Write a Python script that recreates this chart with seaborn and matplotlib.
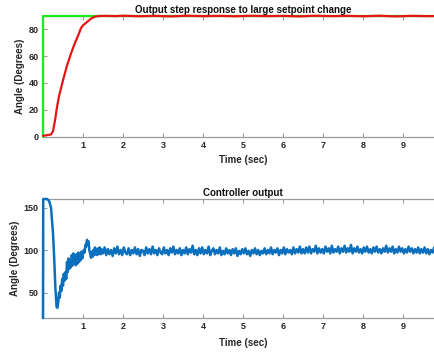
import numpy as np
import pandas as pd
import matplotlib
matplotlib.use("Agg")
import matplotlib.pyplot as plt
import seaborn as sns

# ---------------- data ----------------
# Setpoint (green)
sp_t = [0.0, 0.0, 10.0]
sp_y = [0.0, 90.0, 90.0]

# Output response (red)
resp_t = [0.0, 0.1, 0.2, 0.25, 0.3, 0.35, 0.4, 0.5, 0.6, 0.7, 0.8, 0.9, 0.95,
          1.0, 1.1, 1.2, 1.3, 1.4, 1.6, 1.8, 2.0, 2.4, 2.8, 3.2, 3.6, 4.0, 4.4,
          4.8, 5.2, 5.6, 6.0, 6.4, 6.8, 7.2, 7.6, 8.0, 8.4, 8.8, 9.2, 9.6, 10.0]
resp_y = [0.5, 1.0, 1.5, 4.0, 12.0, 22.0, 30.0, 42.0, 53.0, 62.0, 70.0, 77.0, 81.0,
          83.0, 85.5, 88.0, 89.5, 90.0, 90.1, 89.9, 90.2, 89.8, 90.1, 89.7, 90.2, 89.9, 90.1,
          89.8, 90.2, 89.9, 90.1, 89.7, 90.2, 89.9, 90.1, 89.8, 90.2, 89.7, 90.1, 89.9, 90.0]

# Controller output (blue) - transient part
ctl_t0 = [0.0, 0.005, 0.05, 0.1, 0.15, 0.2, 0.25, 0.28, 0.31, 0.34, 0.36, 0.38,
          0.40, 0.42, 0.44, 0.46, 0.48, 0.50, 0.52, 0.54, 0.56, 0.58, 0.60, 0.62,
          0.64, 0.66, 0.68, 0.70, 0.72, 0.74, 0.76, 0.78, 0.80, 0.82, 0.84, 0.86,
          0.88, 0.90, 0.92, 0.94, 0.96, 0.98, 1.00, 1.02, 1.04, 1.06, 1.08, 1.10,
          1.12, 1.14, 1.16, 1.18, 1.20, 1.22, 1.24, 1.26, 1.28, 1.30, 1.32, 1.34,
          1.36, 1.38, 1.40, 1.42, 1.44, 1.46]
ctl_y0 = [20, 160, 160, 160, 158, 150, 120, 90, 55, 33, 32, 38,
          50, 44, 58, 52, 66, 58, 72, 64, 74, 66, 86, 74,
          90, 78, 86, 80, 94, 82, 96, 84, 92, 82, 95, 84,
          97, 86, 96, 88, 98, 90, 96, 100, 97, 106, 104, 112,
          108, 110, 99, 96, 91, 98, 92, 100, 94, 103, 95, 101,
          94, 102, 96, 103, 95, 101]

# Controller output (blue) - steady part, sampled every 0.04 s from 1.5 s
ctl_start = 1.5
ctl_dt = 0.04
ctl_y1 = [
    96, 103, 94, 101, 95, 100, 93, 102, 96, 104, 95, 100, 94, 103, 97, 95, 102, 94, 100, 96, 103, 95, 101, 93, 100,
    99, 94, 103, 96, 101, 95, 104, 96, 100, 94, 102, 97, 95, 103, 96, 100, 94, 102, 97, 104, 95, 100, 96, 102, 94,
    100, 96, 103, 95, 101, 97, 105, 95, 100, 94, 102, 96, 103, 95, 100, 96, 104, 94, 99, 102, 95, 100, 96, 103, 94,
    99, 95, 102, 96, 100, 94, 101, 96, 102, 93, 99, 95, 101, 96, 102, 95, 99, 93, 100, 96, 102, 95, 100, 94, 99,
    96, 102, 95, 100, 96, 103, 95, 100, 97, 102, 94, 100, 96, 103, 95, 101, 97, 100, 95, 103, 96, 101, 97, 104, 96,
    101, 96, 103, 97, 104, 96, 101, 98, 105, 96, 102, 97, 101, 96, 104, 98, 102, 96, 105, 97, 101, 98, 104, 96, 102,
    98, 105, 97, 102, 98, 106, 96, 102, 98, 104, 97, 101, 96, 103, 98, 104, 97, 101, 96, 103, 98, 104, 97, 101, 96,
    102, 98, 105, 97, 102, 98, 104, 96, 101, 97, 104, 98, 102, 96, 101, 97, 104, 98, 102, 96, 101, 97, 103, 96, 101,
    97, 103, 96, 101, 95, 100, 97, 103, 96, 101, 97, 100, 96,
]

x_ticks = [1, 2, 3, 4, 5, 6, 7, 8, 9]
y_ticks_top = [0, 20, 40, 60, 80]
y_ticks_bot = [50, 100, 150]

title_top = "Output step response to large setpoint change"
title_bot = "Controller output"
xlabel = "Time (sec)"
ylabel = "Angle (Degrees)"

# ---------------- frames ----------------
ctl_t1 = [ctl_start + i * ctl_dt for i in range(len(ctl_y1))]
sp_df = pd.DataFrame({"t": sp_t, "y": sp_y})
resp_df = pd.DataFrame({"t": resp_t, "y": resp_y})
ctl_df = pd.DataFrame({"t": ctl_t0 + ctl_t1, "y": ctl_y0 + ctl_y1})

# ---------------- style ----------------
sns.set_style("white")
plt.rcParams["font.family"] = ["Liberation Sans", "DejaVu Sans"]
plt.rcParams["font.weight"] = "bold"

fig = plt.figure(figsize=(4.34, 3.52), dpi=100)
spine_col = "#9a9a9a"
text_col = "#262626"

W, H = 434.0, 352.0
left = 43 / W
right_px = 43 + 400  # xlim 0..10 at 40 px / s
ax1 = fig.add_axes([left, (H - 136.5) / H, (right_px - 43) / W, (136.5 - 16) / H])
ax2 = fig.add_axes([left, (H - 318) / H, (right_px - 43) / W, (318 - 199) / H])

# top plot
sns.lineplot(data=sp_df, x="t", y="y", sort=False, estimator=None, ax=ax1,
             color="#1ee81e", linewidth=1.6, clip_on=False, zorder=3)
sns.lineplot(data=resp_df, x="t", y="y", sort=False, estimator=None, ax=ax1,
             color="#e81414", linewidth=1.6, clip_on=False, zorder=4)
ax1.set_xlim(0, 10)
ax1.set_ylim(0, 90)
ax1.set_yticks(y_ticks_top)

# bottom plot
sns.lineplot(data=ctl_df, x="t", y="y", sort=False, estimator=None, ax=ax2,
             color="#0a6fbd", linewidth=1.8, clip_on=False, zorder=3)
ax2.set_xlim(0, 10)
ax2.set_ylim(20, 160)
ax2.set_yticks(y_ticks_bot)

for ax, ttl, lp in ((ax1, title_top, 4), (ax2, title_bot, 5)):
    ax.set_xticks(x_ticks)
    ax.set_title(ttl, fontsize=7, fontweight="bold", color="#111111", pad=2)
    ax.set_xlabel(xlabel, fontsize=7, fontweight="bold", color=text_col, labelpad=lp)
    ax.set_ylabel(ylabel, fontsize=7, fontweight="bold", color=text_col, labelpad=3)
    ax.tick_params(direction="in", length=3, width=0.8, colors=spine_col,
                   labelcolor=text_col, labelsize=6.5, top=True, right=False,
                   bottom=True, left=True, pad=3)
    for s in ax.spines.values():
        s.set_color(spine_col)
        s.set_linewidth(0.9)
    for lab in ax.get_xticklabels() + ax.get_yticklabels():
        lab.set_fontweight("bold")

fig.savefig("out.png", dpi=100)
